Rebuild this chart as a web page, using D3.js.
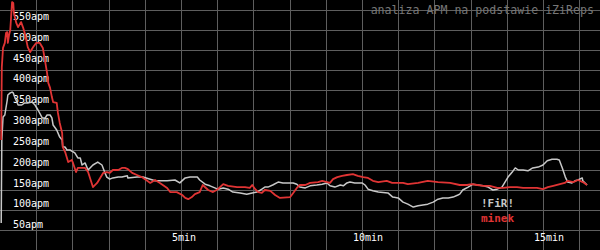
<html>
<head>
<script src="https://d3js.org/d3.v7.min.js"></script>
<style>
body { margin: 0; background: #000; }
svg { display: block; background: #000; }
text { font-family: 'DejaVu Sans Mono', monospace; }
</style>
</head>
<body>
<div id="plot"></div>
<script>
var width = 600;
var height = 250;

// apm tick labels and minute labels
var apmTicks = [50, 100, 150, 200, 250, 300, 350, 400, 450, 500, 550];
var minuteTicks = [5, 10, 15];

// !FiR! (grey) - time in seconds, apm
var firSec = [2, 3, 5, 8, 12, 13, 17, 20, 22, 25, 28, 30, 36, 41, 46, 53, 58, 63, 70, 75, 78, 83, 86, 88, 94, 99,
  103, 104, 108, 111, 116, 124, 129, 133, 136, 141, 146, 154, 162, 169, 174, 177, 182, 187, 196, 202, 211, 212,
  227, 237, 249, 257, 265, 277, 290, 298, 307, 315, 327, 331, 340, 348, 356, 361, 370, 378, 386, 398, 409, 418,
  426, 434, 439, 444, 452, 461, 469, 486, 492, 497, 506, 514, 525, 534, 542, 547, 555, 564, 569, 575, 580, 588,
  600, 605, 610, 618, 627, 643, 651, 660, 668, 676, 685, 693, 701, 709, 718, 726, 734, 743, 751, 759, 762, 767,
  776, 784, 792, 801, 809, 817, 824, 832, 837, 842, 849, 854, 859, 867, 875, 883, 892, 900, 907, 915, 923, 927,
  932, 937, 941, 948, 953, 958, 965, 966, 973];
var firApm = [65, 264, 319, 324, 360, 372, 377, 379, 377, 365, 355, 348, 348, 353, 353, 355, 348, 336, 317, 317, 324, 324, 317, 300, 288, 271,
  264, 247, 247, 240, 240, 233, 221, 221, 204, 209, 192, 204, 211, 204, 185, 175, 170, 173, 175, 175, 178, 173,
  175, 175, 170, 166, 166, 166, 168, 161, 173, 175, 175, 168, 158, 154, 149, 146, 149, 146, 139, 137, 134, 137,
  139, 146, 151, 151, 156, 163, 161, 161, 158, 151, 149, 154, 156, 158, 161, 154, 151, 156, 154, 161, 163, 161,
  161, 156, 146, 142, 139, 137, 127, 125, 115, 110, 103, 106, 108, 110, 115, 122, 125, 125, 127, 132, 134, 144,
  151, 158, 156, 154, 151, 144, 146, 151, 163, 175, 187, 197, 192, 192, 190, 197, 199, 204, 214, 218, 218, 216,
  197, 175, 163, 161, 166, 168, 173, 166, 156];

// minek (red)
var minekSec = [2, 3, 5, 8, 10, 12, 13, 15, 17, 20, 22, 23, 27, 30, 35, 38, 41, 46, 50, 55, 60, 66, 71, 75, 78, 80,
  83, 86, 88, 94, 96, 99, 103, 104, 108, 111, 113, 119, 121, 126, 129, 141, 146, 154, 161, 166, 171, 177, 182,
  187, 196, 202, 207, 212, 219, 227, 235, 244, 249, 257, 265, 277, 282, 293, 302, 307, 312, 318, 323, 331, 336,
  345, 353, 361, 370, 378, 393, 406, 414, 418, 423, 428, 434, 439, 448, 456, 464, 481, 486, 492, 497, 506, 514,
  527, 534, 542, 547, 552, 559, 567, 575, 585, 593, 602, 610, 618, 627, 641, 650, 668, 676, 693, 709, 726, 746,
  762, 774, 782, 791, 801, 812, 824, 834, 845, 857, 867, 878, 890, 900, 908, 917, 928, 936, 941, 950, 958, 966, 973];
var minekApm = [264, 439, 485, 497, 521, 523, 497, 516, 528, 595, 593, 569, 545, 535, 547, 535, 521, 487, 475, 487, 497, 497, 485, 451, 425, 401,
  389, 367, 355, 353, 329, 305, 281, 247, 235, 221, 211, 216, 209, 187, 197, 197, 187, 151, 161, 173, 185, 187, 185,
  192, 192, 197, 197, 194, 185, 180, 175, 166, 161, 168, 161, 149, 139, 139, 132, 125, 122, 127, 134, 139, 156,
  144, 139, 146, 158, 154, 151, 151, 149, 156, 146, 139, 137, 144, 142, 132, 125, 127, 137, 149, 156, 156, 161,
  163, 166, 163, 161, 170, 175, 178, 180, 182, 178, 175, 173, 166, 163, 166, 161, 161, 158, 161, 166, 163, 161,
  156, 156, 158, 156, 154, 154, 149, 149, 151, 151, 149, 149, 149, 146, 151, 154, 158, 161, 166, 163, 168, 163, 156];

var svg = d3.select("#plot").append("svg")
.attr("width", width).attr("height", height);

// one minute is about 36.2px wide
var xScale = d3.scaleLinear().domain([0, width / 36.2 * 60]).range([0, width]);
var yScale = d3.scaleLinear().domain([0, 600]).range([height, 0]);
// grid rows are 20px apart (every 48 apm on this scale)
var gridY = d3.range(48, 600, 48);
var gridX = d3.range(60, xScale.domain()[1], 60);

svg.append("g").selectAll("line").data(gridX).enter().append("line")
.attr("x1", d => Math.round(xScale(d)) + 0.5).attr("x2", d => Math.round(xScale(d)) + 0.5)
.attr("y1", 0).attr("y2", height)
.style("stroke", "#5e5e5e").style("stroke-width", 1);

svg.append("g").selectAll("line").data(gridY).enter().append("line")
.attr("y1", d => Math.round(yScale(d)) + 0.5).attr("y2", d => Math.round(yScale(d)) + 0.5)
.attr("x1", 0).attr("x2", width)
.style("stroke", "#5e5e5e").style("stroke-width", 1);

svg.append("text").attr("x", 594).attr("y", 14)
.attr("text-anchor", "end").style("font-size", "11.6px").style("fill", "#777")
.text("analiza APM na podstawie iZiReps");

svg.append("g").selectAll("text").data(apmTicks).enter().append("text")
.attr("x", 13).attr("y", d => yScale(d) - 1)
.style("font-size", "10px").style("fill", "#fff")
.text(d => d + "apm");

svg.append("g").selectAll("text").data(minuteTicks).enter().append("text")
.attr("x", d => xScale(d * 60) - 9).attr("y", 241)
.style("font-size", "10px").style("fill", "#fff")
.text(d => d + "min");

var line = d3.line()
.x(d => xScale(d[0]))
.y(d => yScale(d[1]));

function drawSeries(sec, apm, color, w) {
  var pts = sec.map((s, i) => [s, apm[i]]);
  svg.append("path")
  .attr("d", line(pts))
  .style("fill", "none")
  .style("stroke", color)
  .style("stroke-width", w)
  .style("stroke-linejoin", "round");
}

drawSeries(firSec, firApm, "#c8c8c8", 1.5);
drawSeries(minekSec, minekApm, "#e03434", 1.8);

// legend
svg.append("text").attr("x", 481).attr("y", 207)
.style("font-size", "11px").style("font-weight", "bold").style("fill", "#c8c8c8")
.text("!FiR!");
svg.append("text").attr("x", 481).attr("y", 222)
.style("font-size", "11px").style("font-weight", "bold").style("fill", "#e03434")
.text("minek");
</script>
</body>
</html>
